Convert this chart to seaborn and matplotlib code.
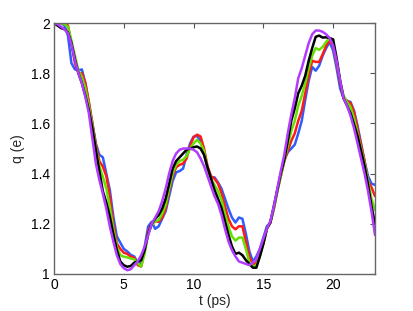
import numpy as np
import pandas as pd
import matplotlib
matplotlib.use("Agg")
import matplotlib.pyplot as plt
import seaborn as sns

# time axis (ps), one sample every 0.25 ps from 0 to 23
t_ps = np.linspace(0, 23, 93)

# charge q (e) for each run (12 samples = 3 ps per row)
q_blue = [2.0, 2.0, 2.0, 1.99, 1.95, 1.84, 1.815, 1.812, 1.815, 1.76, 1.68, 1.60,
          1.52, 1.475, 1.465, 1.40, 1.335, 1.23, 1.15, 1.125, 1.10, 1.09, 1.076, 1.07,
          1.045, 1.045, 1.11, 1.19, 1.208, 1.18, 1.19, 1.22, 1.25, 1.31, 1.37, 1.405,
          1.41, 1.42, 1.475, 1.52, 1.547, 1.55, 1.53, 1.48, 1.42, 1.385, 1.385, 1.365,
          1.34, 1.30, 1.26, 1.225, 1.205, 1.225, 1.22, 1.16, 1.09, 1.05, 1.07, 1.10,
          1.145, 1.19, 1.205, 1.26, 1.33, 1.40, 1.455, 1.485, 1.50, 1.515, 1.56, 1.61,
          1.693, 1.77, 1.825, 1.81, 1.83, 1.87, 1.90, 1.925, 1.89, 1.82, 1.74, 1.70,
          1.69, 1.685, 1.65, 1.59, 1.52, 1.45, 1.39, 1.36, 1.355]
q_red = [2.0, 2.0, 2.0, 2.0, 1.99, 1.92, 1.84, 1.80, 1.80, 1.76, 1.685, 1.60,
         1.514, 1.45, 1.428, 1.39, 1.31, 1.20, 1.122, 1.10, 1.085, 1.08, 1.069, 1.065,
         1.035, 1.03, 1.096, 1.17, 1.202, 1.21, 1.208, 1.225, 1.26, 1.33, 1.39, 1.425,
         1.435, 1.44, 1.46, 1.51, 1.545, 1.555, 1.548, 1.50, 1.43, 1.39, 1.38, 1.36,
         1.323, 1.27, 1.22, 1.19, 1.178, 1.19, 1.19, 1.13, 1.07, 1.036, 1.045, 1.08,
         1.12, 1.18, 1.205, 1.26, 1.33, 1.39, 1.45, 1.49, 1.53, 1.56, 1.61, 1.65,
         1.72, 1.79, 1.85, 1.845, 1.845, 1.875, 1.91, 1.93, 1.91, 1.84, 1.76, 1.70,
         1.69, 1.68, 1.645, 1.58, 1.515, 1.45, 1.37, 1.345, 1.31]
q_green = [2.0, 2.0, 2.0, 1.995, 1.985, 1.93, 1.87, 1.81, 1.785, 1.74, 1.67, 1.59,
           1.50, 1.43, 1.388, 1.34, 1.268, 1.18, 1.109, 1.075, 1.069, 1.066, 1.062, 1.058,
           1.043, 1.03, 1.082, 1.16, 1.195, 1.21, 1.215, 1.24, 1.275, 1.34, 1.40, 1.435,
           1.45, 1.455, 1.47, 1.50, 1.52, 1.535, 1.52, 1.49, 1.42, 1.38, 1.355, 1.33,
           1.296, 1.24, 1.19, 1.15, 1.133, 1.145, 1.145, 1.10, 1.045, 1.03, 1.035, 1.07,
           1.12, 1.18, 1.205, 1.26, 1.33, 1.39, 1.45, 1.51, 1.57, 1.61, 1.67, 1.71,
           1.76, 1.82, 1.87, 1.90, 1.893, 1.905, 1.925, 1.94, 1.92, 1.85, 1.77, 1.71,
           1.685, 1.665, 1.62, 1.56, 1.50, 1.44, 1.37, 1.30, 1.255]
q_black = [2.0, 1.99, 1.98, 1.975, 1.962, 1.92, 1.855, 1.80, 1.76, 1.71, 1.652, 1.58,
           1.494, 1.41, 1.33, 1.285, 1.229, 1.16, 1.096, 1.05, 1.035, 1.029, 1.032, 1.045,
           1.05, 1.055, 1.096, 1.16, 1.20, 1.22, 1.235, 1.26, 1.30, 1.36, 1.42, 1.45,
           1.465, 1.48, 1.495, 1.50, 1.505, 1.508, 1.50, 1.475, 1.425, 1.38, 1.335, 1.30,
           1.263, 1.21, 1.157, 1.11, 1.08, 1.085, 1.075, 1.055, 1.04, 1.025, 1.025, 1.07,
           1.12, 1.18, 1.205, 1.27, 1.335, 1.40, 1.455, 1.53, 1.61, 1.66, 1.72, 1.75,
           1.79, 1.85, 1.90, 1.945, 1.95, 1.942, 1.943, 1.94, 1.935, 1.86, 1.77, 1.70,
           1.67, 1.64, 1.595, 1.55, 1.49, 1.43, 1.356, 1.27, 1.20]
q_purple = [2.0, 1.995, 1.985, 1.975, 1.96, 1.915, 1.85, 1.80, 1.76, 1.705, 1.64, 1.54,
            1.44, 1.375, 1.32, 1.26, 1.19, 1.13, 1.076, 1.04, 1.023, 1.015, 1.019, 1.035,
            1.05, 1.075, 1.11, 1.155, 1.20, 1.225, 1.25, 1.29, 1.34, 1.40, 1.45, 1.48,
            1.495, 1.50, 1.50, 1.50, 1.495, 1.485, 1.46, 1.43, 1.39, 1.35, 1.31, 1.28,
            1.236, 1.18, 1.13, 1.095, 1.07, 1.05, 1.045, 1.04, 1.035, 1.045, 1.06, 1.10,
            1.14, 1.18, 1.21, 1.27, 1.34, 1.41, 1.475, 1.56, 1.635, 1.70, 1.78, 1.82,
            1.87, 1.92, 1.955, 1.97, 1.97, 1.965, 1.955, 1.94, 1.91, 1.85, 1.77, 1.70,
            1.67, 1.63, 1.58, 1.52, 1.46, 1.40, 1.33, 1.25, 1.155]

series = ["blue", "red", "green", "black", "purple"]
colors = ["#2f5cff", "#ff1a1a", "#66e000", "#000000", "#b13cff"]
values = [q_blue, q_red, q_green, q_black, q_purple]

df = pd.concat([pd.DataFrame({"t": t_ps, "q": v, "run": s}) for s, v in zip(series, values)],
               ignore_index=True)

sns.set_style("white")
plt.rcParams["font.family"] = ["Liberation Sans", "DejaVu Sans"]

fig = plt.figure(figsize=(4.14, 3.11), dpi=100)
ax = fig.add_axes([0.1304, 0.119, 0.7754, 0.807])

sns.lineplot(data=df, x="t", y="q", hue="run", hue_order=series,
             palette=dict(zip(series, colors)), linewidth=1.8, errorbar=None,
             legend=False, ax=ax, solid_joinstyle="round")

ax.set_xlim(0, 23)
ax.set_ylim(1, 2)
ax.set_xticks([0, 5, 10, 15, 20])
ax.set_yticks([1, 1.2, 1.4, 1.6, 1.8, 2])
ax.set_yticklabels(["1", "1.2", "1.4", "1.6", "1.8", "2"])
ax.set_xlabel("t (ps)", fontsize=10, labelpad=1)
ax.set_ylabel("q (e)", fontsize=10, labelpad=4)
ax.tick_params(direction="in", length=3.5, width=0.8, top=True, right=True,
               labelsize=10, colors="#555555", labelcolor="black", pad=3)
for sp in ax.spines.values():
    sp.set_color("#666666")
    sp.set_linewidth(1.0)

fig.savefig("out.png", dpi=100)
